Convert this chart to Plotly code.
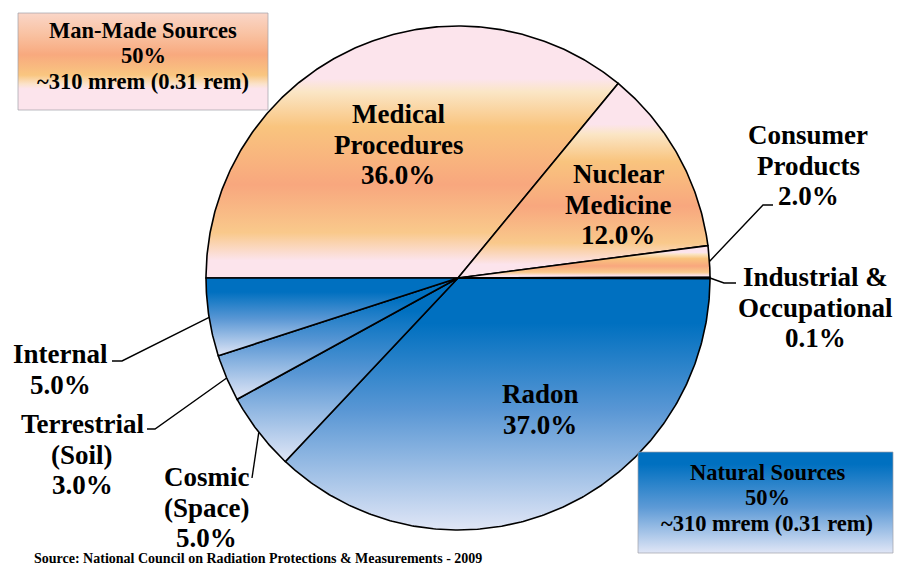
import numpy as np
import plotly.graph_objects as go

# ---------------- data ----------------
categories = ["Medical Procedures", "Nuclear Medicine", "Consumer Products",
              "Industrial & Occupational", "Radon", "Cosmic (Space)",
              "Terrestrial (Soil)", "Internal"]
percent = [36.0, 12.0, 2.0, 0.1, 37.0, 5.0, 3.0, 5.0]
source_group = ["Man-Made", "Man-Made", "Man-Made", "Man-Made",
                "Natural", "Natural", "Natural", "Natural"]
group_names = ["Man-Made Sources", "Natural Sources"]
group_share = [50, 50]
group_dose = ["~310 mrem (0.31 rem)", "~310 mrem (0.31 rem)"]
source_note = "Source: National Council on Radiation Protections & Measurements - 2009"

# ---------------- layout / style ----------------
W, H = 898, 567
CX, CY, R = 458, 278, 252          # pie centre / radius in screen pixels
FONT = "Liberation Serif, Times New Roman, Times, serif"
LABEL_SIZE = 27
LABEL_GAP = 30.5

# gradients, listed top -> bottom
grad_manmade = [(0.0, "#FCE4EC"), (0.21, "#FCE4EC"), (0.26, "#FBE6C6"),
                (0.40, "#F9C47E"), (0.63, "#F8A77E"), (0.82, "#F9C98B"),
                (0.93, "#FCE4EC"), (1.0, "#FCE4EC")]
grad_natural = [(0.0, "#0070C0"), (0.18, "#0070C0"), (0.52, "#5896D4"),
                (1.0, "#E0E6F6")]
grad_box_mm = [(0.0, "#FAD6C8"), (0.22, "#F9C2A2"), (0.43, "#F8A97E"),
               (0.64, "#F9C680"), (0.73, "#FBE2C8"), (0.78, "#FCE4EC"),
               (1.0, "#FCE4EC")]
grad_box_nat = [(0.0, "#0070C0"), (0.12, "#0070C0"), (0.55, "#5D9AD6"),
                (1.0, "#E0E6F6")]
group_grad = {"Man-Made": grad_manmade, "Natural": grad_natural}


def colorscale(top_to_bottom):
    # plotly gradient runs from lowest y (bottom) to highest y (top)
    return sorted([[1 - p, c] for p, c in top_to_bottom], key=lambda t: t[0])


def sy(y):  # screen y -> data y
    return H - y


fig = go.Figure()

# ---------------- slices ----------------
frac = np.array(percent) / np.sum(percent)
bounds = 180 - 360 * np.concatenate([[0], np.cumsum(frac)])   # clockwise from 9 o'clock
mid_angles = (bounds[:-1] + bounds[1:]) / 2

for i, name in enumerate(categories):
    a0, a1 = bounds[i], bounds[i + 1]
    n = max(3, int(abs(a1 - a0) * 2))
    th = np.radians(np.linspace(a0, a1, n))
    xs = np.concatenate([[CX], CX + R * np.cos(th), [CX]])
    ys = np.concatenate([[CY], CY - R * np.sin(th), [CY]])
    fig.add_trace(go.Scatter(
        x=xs, y=sy(ys), mode="lines", fill="toself",
        line=dict(color="black", width=1.6),
        fillgradient=dict(type="vertical",
                          colorscale=colorscale(group_grad[source_group[i]])),
        name=name, hoveron="fills",
        text=f"{name}: {percent[i]:.1f}%", hoverinfo="text",
    ))

# ---------------- group boxes ----------------
boxes = [
    dict(x0=18, x1=268, y0=13, y1=110, grad=grad_box_mm, tx=143, ty=30),
    dict(x0=638, x1=893, y0=452, y1=553, grad=grad_box_nat, tx=767, ty=472),
]
annotations = []


def add_lines(lines, x, y0, gap, size, anchor="center"):
    for k, t in enumerate(lines):
        annotations.append(dict(
            x=x, y=sy(y0 + k * gap), xref="x", yref="y", text=t,
            showarrow=False, xanchor=anchor, yanchor="middle",
            font=dict(family=FONT, size=size, color="black", weight="bold")))


for g, b in enumerate(boxes):
    fig.add_trace(go.Scatter(
        x=[b["x0"], b["x1"], b["x1"], b["x0"], b["x0"]],
        y=[sy(b["y0"]), sy(b["y0"]), sy(b["y1"]), sy(b["y1"]), sy(b["y0"])],
        mode="lines", fill="toself", line=dict(color="rgba(160,160,170,0.7)", width=1),
        fillgradient=dict(type="vertical", colorscale=colorscale(b["grad"])),
        hoverinfo="skip"))
    add_lines([group_names[g], f"{group_share[g]}%", group_dose[g]],
              b["tx"], b["ty"], 25.5, 22.5)

# ---------------- slice labels ----------------
label_pos = {
    "Medical Procedures": dict(lines=["Medical", "Procedures"], x=398, y=114),
    "Nuclear Medicine": dict(lines=["Nuclear", "Medicine"], x=618, y=174),
    "Consumer Products": dict(lines=["Consumer", "Products"], x=808, y=135),
    "Industrial & Occupational": dict(lines=["Industrial &", "Occupational"], x=815, y=277),
    "Radon": dict(lines=["Radon"], x=540, y=394),
    "Cosmic (Space)": dict(lines=["Cosmic", "(Space)"], x=206, y=477),
    "Terrestrial (Soil)": dict(lines=["Terrestrial", "(Soil)"], x=82, y=424),
    "Internal": dict(lines=["Internal"], x=60, y=354),
}
# leader line bends (screen px): pie edge point is computed from the slice angle
leaders = {
    "Consumer Products": [(763, 205), (773, 205)],
    "Industrial & Occupational": [(724, 283), (736, 283)],
    "Cosmic (Space)": [(252, 478)],
    "Terrestrial (Soil)": [(155, 429), (147, 429)],
    "Internal": [(122, 361), (112, 361)],
}

for i, name in enumerate(categories):
    lp = label_pos[name]
    add_lines(lp["lines"] + [f"{percent[i]:.1f}%"], lp["x"], lp["y"], LABEL_GAP, LABEL_SIZE)
    if name in leaders:
        a = np.radians(mid_angles[i])
        pts = [(CX + R * np.cos(a), CY - R * np.sin(a))] + leaders[name]
        fig.add_trace(go.Scatter(
            x=[p[0] for p in pts], y=[sy(p[1]) for p in pts], mode="lines",
            line=dict(color="black", width=1.4), hoverinfo="skip"))

# ---------------- source note ----------------
annotations.append(dict(
    x=32, y=sy(558.5), xref="x", yref="y", text=source_note, showarrow=False,
    xanchor="left", yanchor="middle",
    font=dict(family=FONT, size=14, color="black", weight="bold")))

fig.update_layout(
    width=W, height=H, margin=dict(l=0, r=0, t=0, b=0),
    paper_bgcolor="white", plot_bgcolor="white", showlegend=False,
    xaxis=dict(range=[0, W], visible=False, fixedrange=True),
    yaxis=dict(range=[0, H], visible=False, fixedrange=True),
    annotations=annotations,
)

fig.write_html("out.html", config={"displayModeBar": False},
               post_script="document.body.style.margin='0';document.body.style.overflow='hidden';")
